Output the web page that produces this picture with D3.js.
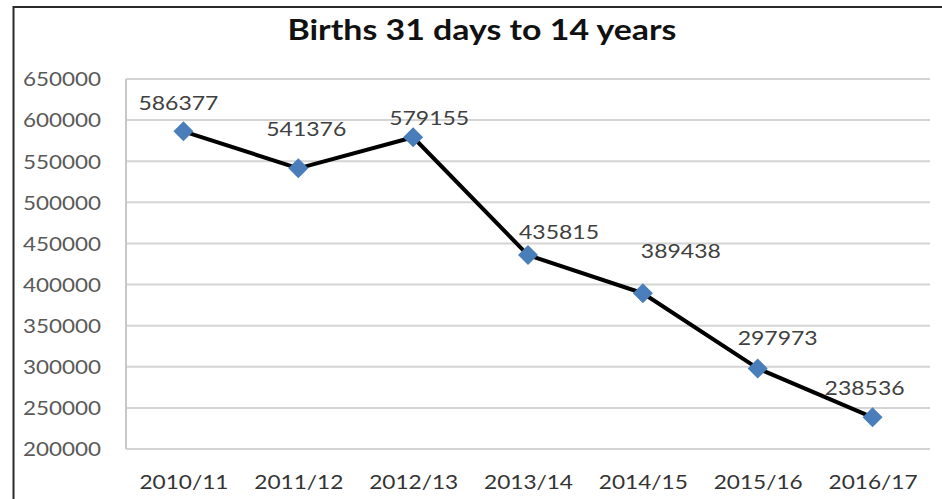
<!DOCTYPE html>
<html>
<head>
<meta charset="utf-8">
<script src="https://cdn.jsdelivr.net/npm/d3@7/dist/d3.min.js"></script>
<style>
  html, body { margin: 0; padding: 0; background: #fff; }
  svg { display: block; }
</style>
</head>
<body>
<svg id="chart" width="942" height="499"></svg>
<script>
// ---- data ----
const categories = ["2010/11", "2011/12", "2012/13", "2013/14", "2014/15", "2015/16", "2016/17"];
const births = [586377, 541376, 579155, 435815, 389438, 297973, 238536];
const yTicks = [200000, 250000, 300000, 350000, 400000, 450000, 500000, 550000, 600000, 650000];
const titleText = "Births 31 days to 14 years";
// label placement offsets (px) relative to each point (manual placement as in source)
const labelDx = [-5, 8, 16, 31, 38, 20, -8];
const labelDy = [-21, -32, -12, -16, -35, -23, -22];

// ---- layout ----
const W = 942, H = 499;
const plot = { left: 126, right: 930, top: 79, bottom: 449 };
const numFont = "Lato";
const svg = d3.select("#chart");

// outer chart border
svg.append("rect")
  .attr("x", 13.5).attr("y", 7)
  .attr("width", W + 20).attr("height", H + 20)
  .attr("fill", "#fff")
  .attr("stroke", "#2b2b2b").attr("stroke-width", 2);

const x = d3.scalePoint().domain(categories).range([plot.left, plot.right]).padding(0.5);
const y = d3.scaleLinear().domain([200000, 650000]).range([plot.bottom, plot.top]);

// gridlines
svg.append("g").selectAll("line").data(yTicks).join("line")
  .attr("x1", plot.left).attr("x2", plot.right)
  .attr("y1", d => y(d)).attr("y2", d => y(d))
  .attr("stroke", "#d4d4d4").attr("stroke-width", 2);

// left axis line
svg.append("line")
  .attr("x1", plot.left).attr("x2", plot.left)
  .attr("y1", plot.top).attr("y2", plot.bottom)
  .attr("stroke", "#c8c8c8").attr("stroke-width", 2);

// y axis labels
const yAxis = d3.axisLeft(y).tickValues(yTicks).tickSize(0).tickPadding(25).tickFormat(d3.format("d"));
const gy = svg.append("g").attr("transform", `translate(${plot.left},0)`).call(yAxis);
gy.select(".domain").remove();
gy.selectAll("text")
  .attr("font-family", numFont).attr("font-size", 19).attr("fill", "#595959")
  .attr("dy", "0.36em")
  .attr("textLength", 78).attr("lengthAdjust", "spacingAndGlyphs");

// x axis labels
const xAxis = d3.axisBottom(x).tickSize(0).tickPadding(26);
const gx = svg.append("g").attr("transform", `translate(0,${plot.bottom})`).call(xAxis);
gx.select(".domain").remove();
gx.selectAll("text")
  .attr("font-family", numFont).attr("font-size", 20).attr("fill", "#333")
  .attr("textLength", 89).attr("lengthAdjust", "spacingAndGlyphs");

// title
svg.append("text")
  .attr("x", 482).attr("y", 40)
  .attr("text-anchor", "middle")
  .attr("font-family", "Lato").attr("font-weight", "bold").attr("font-size", 28)
  .attr("fill", "#111")
  .attr("textLength", 389).attr("lengthAdjust", "spacingAndGlyphs")
  .text(titleText);

// line
const line = d3.line().x((d, i) => x(categories[i])).y(d => y(d));
svg.append("path").datum(births)
  .attr("d", line)
  .attr("fill", "none").attr("stroke", "#000").attr("stroke-width", 4)
  .attr("stroke-linejoin", "round");

// markers (diamonds)
svg.append("g").selectAll("path").data(births).join("path")
  .attr("d", d3.symbol().type(d3.symbolSquare).size(200))
  .attr("transform", (d, i) => `translate(${x(categories[i])},${y(d)}) rotate(45)`)
  .attr("fill", "#4a7ebb");

// data labels
svg.append("g").selectAll("text").data(births).join("text")
  .attr("x", (d, i) => x(categories[i]) + labelDx[i])
  .attr("y", (d, i) => y(d) + labelDy[i])
  .attr("text-anchor", "middle")
  .attr("font-family", numFont).attr("font-size", 19).attr("fill", "#404040")
  .attr("textLength", 80).attr("lengthAdjust", "spacingAndGlyphs")
  .text(d => d);
</script>
</body>
</html>
